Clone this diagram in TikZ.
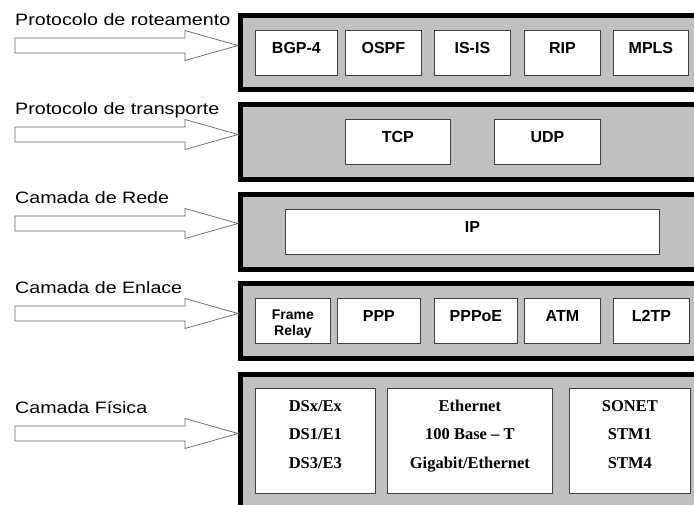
\documentclass[tikz,border=0pt]{standalone}
\usepackage{fontspec}
\setmainfont{Liberation Sans}
\newfontfamily\lblfont{Liberation Sans}[FakeStretch=1.19]
\newfontfamily\physfont{Liberation Serif}[Ligatures=TeX]
\usetikzlibrary{positioning,calc}
\definecolor{layergray}{RGB}{192,192,192}
\definecolor{boxedge}{RGB}{64,64,64}
\definecolor{arrowedge}{RGB}{100,100,100}

\begin{document}
\begin{tikzpicture}[x=1pt,y=-1pt,
  layer/.style={draw=black,line width=5pt,fill=layergray,inner sep=0pt,
    anchor=north west,minimum width=480pt},
  proto/.style={draw=boxedge,fill=white,line width=0.8pt,inner sep=0pt,anchor=north west,
    font=\bfseries\fontsize{16}{19}\selectfont,text height=23pt,text depth=22pt},
  phys/.style={proto,align=center,font=\physfont\bfseries\fontsize{16.5}{28.5}\selectfont,
    text height=80pt,text depth=25pt},
  lbl/.style={font=\lblfont\fontsize{16.5}{19}\selectfont,inner sep=0pt,anchor=base west},
  blockarrow/.style={draw=arrowedge,fill=white,line width=0.7pt,to path={
    let \p1=(\tikztostart), \p2=(\tikztotarget) in
    (\x1,\y1+7.5pt) -- (\x2-53pt,\y1+7.5pt) -- (\x2-53pt,\y1+15pt) -- (\x2,\y1)
    -- (\x2-53pt,\y1-15pt) -- (\x2-53pt,\y1-7.5pt) -- (\x1,\y1-7.5pt) -- cycle}}]
 \useasboundingbox (0,0) rectangle (694,504);
 \clip (0,0) rectangle (694,504);

 \node[layer,minimum height=74pt] (l1) at (238,13) {};
 \node[layer,minimum height=75pt] (l2) at (238,102) {};
 \node[layer,minimum height=75pt] (l3) at (238,192) {};
 \node[layer,minimum height=75pt] (l4) at (238,281) {};
 \node[layer,minimum height=200pt] (l5) at (238,372) {};

 \node[lbl] (t1) at (15,25) {Protocolo de roteamento};
 \node[lbl] (t2) at (15,114) {Protocolo de transporte};
 \node[lbl] (t3) at (15,203) {Camada de Rede};
 \node[lbl] (t4) at (15,293) {Camada de Enlace};
 \node[lbl] (t5) at (15,413) {Camada Física};

 \node[proto,minimum width=82pt] (bgp) at (255,30) {BGP-4};
 \node[proto,minimum width=76pt] (ospf) at (345,30) {OSPF};
 \node[proto,minimum width=76pt] (isis) at (434,30) {IS-IS};
 \node[proto,minimum width=76pt] (rip) at (524,30) {RIP};
 \node[proto,minimum width=75pt] (mpls) at (613,30) {MPLS};

 \node[proto,minimum width=105pt] (tcp) at (345,119) {TCP};
 \node[proto,minimum width=106pt] (udp) at (494,119) {UDP};

 \node[proto,minimum width=374pt] (ip) at (285,209) {IP};

 \node[proto,minimum width=75pt,align=center,font=\bfseries\fontsize{14}{16}\selectfont,
   text height=37pt,text depth=8pt] (fr) at (255,298) {Frame\\Relay};
 \node[proto,minimum width=83pt] (ppp) at (337,298) {PPP};
 \node[proto,minimum width=83pt] (pppoe) at (434,298) {PPPoE};
 \node[proto,minimum width=76pt] (atm) at (524,298) {ATM};
 \node[proto,minimum width=76pt] (l2tp) at (613,298) {L2TP};

 \node[phys,minimum width=120pt] (dsx) at (255,388) {DSx/Ex\\DS1/E1\\DS3/E3};
 \node[phys,minimum width=165pt] (eth) at (387,388) {Ethernet\\100 Base – T\\Gigabit/Ethernet};
 \node[phys,minimum width=121pt] (sonet) at (569,388) {SONET\\STM1\\STM4};

 \foreach \i in {1,...,5}
   \coordinate[below=20.5pt of t\i.base west] (a\i);
 \foreach \i in {1,...,5}
   \path (a\i) edge[blockarrow] (a\i -| l\i.west);
\end{tikzpicture}
\end{document}
